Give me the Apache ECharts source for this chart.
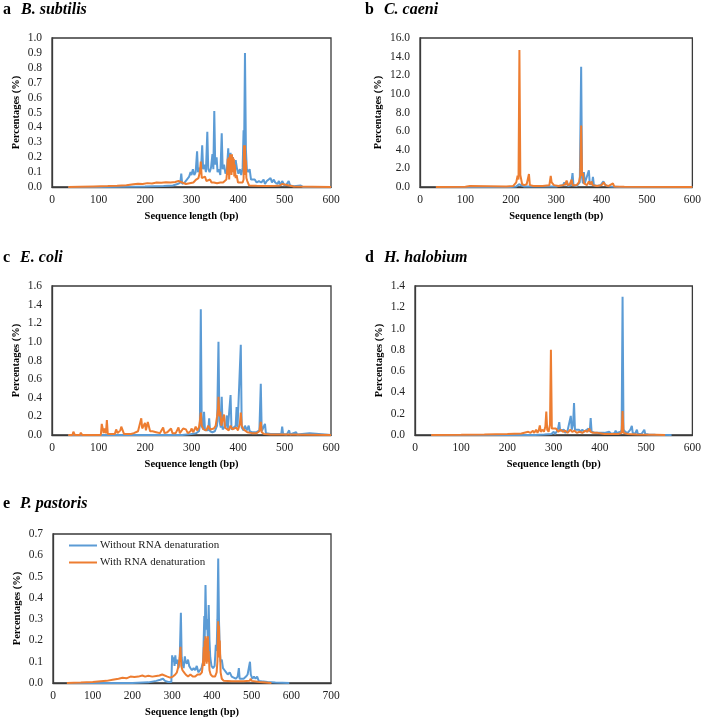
<!DOCTYPE html>
<html>
<head>
<meta charset="utf-8">
<script src="https://cdn.jsdelivr.net/npm/echarts@6/dist/echarts.min.js"></script>
<style>
html,body{margin:0;padding:0;background:#fff;}
#chart{width:704px;height:720px;}
</style>
</head>
<body>
<div id="chart"></div>
<script>
// ---- Data (sequence length bp, percentage %) ----
const panelLetters = ['a', 'b', 'c', 'd', 'e'];
const panelNames = ['B. subtilis', 'C. caeni', 'E. coli', 'H. halobium', 'P. pastoris'];
const seriesNames = ['Without RNA denaturation', 'With RNA denaturation'];
const yMax = [1.0, 16.0, 1.6, 1.4, 0.7];
const yStep = [0.1, 2.0, 0.2, 0.2, 0.1];
const xMax = [600, 600, 600, 600, 700];
const xStep = [100, 100, 100, 100, 100];

const aWithout = [[35,0],[100,0],[150,0.002],[200,0.004],[240,0.006],[260,0.01],[270,0.02],[276,0.03],[278,0.09],[280,0.02],[285,0.03],[290,0.05],[295,0.07],[298,0.1],[300,0.08],[303,0.12],[306,0.08],[309,0.1],[312,0.24],[314,0.1],[317,0.13],[320,0.09],[323,0.28],[325,0.12],[328,0.15],[331,0.1],[334,0.37],[336,0.12],[339,0.1],[342,0.13],[345,0.22],[347,0.12],[349,0.51],[351,0.15],[354,0.2],[356,0.1],[359,0.12],[362,0.08],[365,0.36],[367,0.12],[370,0.15],[373,0.09],[376,0.11],[379,0.26],[381,0.12],[384,0.23],[386,0.14],[389,0.2],[392,0.1],[395,0.18],[398,0.12],[401,0.09],[404,0.12],[407,0.08],[410,0.13],[412,0.38],[413,0.2],[415,0.9],[417,0.25],[419,0.12],[422,0.1],[425,0.12],[428,0.05],[432,0.04],[436,0.05],[440,0.03],[445,0.04],[450,0.03],[455,0.05],[458,0.02],[462,0.04],[466,0.03],[470,0.06],[473,0.03],[477,0.05],[480,0.03],[485,0.02],[488,0.04],[492,0.01],[495,0.04],[500,0.01],[505,0.02],[509,0.04],[512,0.01],[520,0.005],[535,0.01],[540,0],[600,0]];
const aWith = [[35,0],[60,0.002],[90,0.004],[120,0.006],[140,0.008],[160,0.012],[175,0.018],[185,0.022],[195,0.02],[205,0.026],[215,0.024],[225,0.03],[235,0.028],[245,0.032],[255,0.03],[265,0.034],[272,0.04],[276,0.045],[280,0.03],[288,0.02],[296,0.025],[304,0.03],[310,0.05],[315,0.06],[318,0.1],[320,0.17],[322,0.06],[326,0.05],[329,0.07],[332,0.04],[336,0.04],[340,0.05],[343,0.03],[348,0.03],[355,0.025],[362,0.03],[368,0.03],[372,0.04],[375,0.05],[377,0.12],[378,0.19],[379,0.08],[380,0.2],[381,0.05],[382,0.15],[383,0.22],[384,0.1],[385,0.21],[386,0.08],[387,0.22],[388,0.12],[389,0.2],[390,0.1],[391,0.19],[392,0.07],[393,0.15],[395,0.06],[397,0.08],[400,0.03],[405,0.03],[410,0.03],[412,0.05],[413,0.28],[414,0.12],[415,0.28],[416,0.08],[417,0.18],[418,0.06],[420,0.04],[424,0.01],[440,0.008],[460,0.006],[480,0.008],[490,0.01],[495,0.02],[498,0.008],[520,0.004],[560,0.002],[600,0]];

const bWithout = [[35,0],[200,0],[212,0.05],[218,0.3],[222,0.1],[230,0.05],[300,0.05],[315,0.2],[318,0.5],[320,0.2],[324,0.6],[326,0.1],[333,0.2],[336,1.5],[338,0.2],[345,0.1],[352,0.5],[355,12.9],[357,1.0],[359,0.4],[361,1.6],[363,0.4],[367,0.2],[372,1.8],[374,0.3],[379,0.3],[381,1.1],[383,0.2],[390,0.1],[398,0.2],[404,0.6],[407,0.3],[412,0.1],[420,0.05],[440,0],[600,0]];
const bWith = [[35,0],[100,0.02],[110,0.1],[114,0.02],[190,0.05],[205,0.1],[212,0.5],[215,1.2],[217,0.8],[219,14.7],[221,1.3],[223,1.2],[225,0.3],[230,0.2],[235,0.3],[238,0.2],[240,1.4],[242,0.2],[250,0.1],[265,0.1],[268,0.3],[270,0.1],[285,0.2],[288,1.2],[290,0.5],[292,0.6],[295,0.2],[305,0.1],[315,0.2],[320,0.3],[323,0.7],[325,0.2],[330,0.3],[334,0.8],[336,0.2],[345,0.2],[350,0.5],[353,1.2],[355,6.6],[357,1.2],[359,1.5],[361,0.4],[364,0.3],[368,0.2],[372,0.6],[375,0.3],[378,0.6],[380,0.2],[390,0.1],[400,0.2],[405,0.5],[408,0.2],[415,0.1],[425,0.4],[428,0.05],[450,0.02],[600,0]];

const cWithout = [[35,0],[280,0],[300,0.01],[310,0.02],[316,0.04],[318,0.1],[320,1.35],[322,0.1],[325,0.06],[327,0.25],[329,0.05],[333,0.04],[336,0.05],[338,0.18],[340,0.04],[345,0.03],[350,0.04],[355,0.1],[358,1.0],[360,0.15],[363,0.08],[365,0.41],[367,0.06],[371,0.05],[374,0.1],[376,0.21],[378,0.06],[381,0.05],[384,0.43],[386,0.06],[390,0.05],[395,0.1],[397,0.3],[399,0.08],[403,0.1],[406,0.97],[408,0.08],[412,0.05],[415,0.1],[417,0.11],[419,0.05],[423,0.1],[425,0.04],[430,0.03],[440,0.03],[446,0.05],[449,0.55],[451,0.04],[455,0.02],[458,0.12],[460,0.02],[470,0.01],[480,0.01],[493,0.01],[495,0.09],[497,0.01],[505,0.005],[510,0.05],[512,0.005],[525,0.03],[527,0.005],[554,0.02],[556,0],[600,0]];
const cWith = [[35,0],[44,0],[46,0.035],[49,0],[60,0],[62,0.025],[65,0],[105,0],[107,0.12],[109,0.13],[111,0.02],[113,0.07],[116,0.02],[118,0.16],[120,0.01],[135,0.01],[138,0.06],[141,0.02],[147,0.05],[149,0.09],[152,0.05],[155,0.01],[170,0.01],[176,0.02],[180,0.02],[185,0.04],[188,0.02],[192,0.18],[194,0.07],[197,0.06],[200,0.13],[202,0.05],[206,0.14],[208,0.12],[211,0.04],[216,0.04],[220,0.04],[224,0.03],[228,0.04],[232,0.02],[236,0.03],[239,0.08],[242,0.02],[248,0.03],[252,0.02],[256,0.07],[259,0.02],[266,0.02],[272,0.08],[275,0.02],[282,0.07],[285,0.05],[288,0.06],[292,0.02],[298,0.04],[300,0.07],[304,0.03],[309,0.09],[312,0.05],[316,0.08],[318,0.15],[320,0.24],[322,0.1],[326,0.06],[329,0.08],[332,0.05],[336,0.1],[340,0.06],[344,0.05],[348,0.07],[352,0.1],[355,0.2],[357,0.28],[358,0.41],[360,0.2],[362,0.25],[364,0.1],[367,0.12],[370,0.22],[372,0.08],[376,0.06],[380,0.05],[384,0.1],[388,0.06],[392,0.05],[396,0.08],[400,0.05],[404,0.12],[406,0.24],[408,0.1],[412,0.06],[416,0.04],[420,0.03],[430,0.02],[440,0.02],[446,0.04],[449,0.14],[451,0.03],[456,0.01],[470,0.005],[500,0.005],[600,0]];

const dWithout = [[35,0],[260,0],[280,0.005],[295,0.01],[300,0.03],[303,0.01],[306,0.03],[309,0.05],[312,0.12],[314,0.04],[318,0.03],[322,0.05],[325,0.02],[330,0.04],[334,0.03],[337,0.18],[339,0.05],[342,0.1],[344,0.3],[346,0.05],[350,0.04],[355,0.05],[358,0.03],[362,0.05],[366,0.03],[370,0.04],[375,0.06],[378,0.03],[380,0.16],[382,0.03],[386,0.03],[390,0.02],[400,0.02],[410,0.02],[420,0.03],[425,0.01],[432,0.02],[434,0.04],[436,0.02],[440,0.02],[445,0.03],[447,0.05],[449,1.3],[451,0.05],[455,0.03],[460,0.02],[466,0.05],[469,0.085],[471,0.02],[476,0.01],[480,0.05],[482,0.01],[490,0.01],[496,0.05],[498,0.01],[505,0.005],[520,0.003],[555,0]];
const dWith = [[35,0],[100,0.002],[150,0.005],[200,0.01],[230,0.015],[245,0.03],[250,0.02],[255,0.04],[258,0.02],[262,0.05],[265,0.02],[268,0.05],[270,0.09],[272,0.03],[276,0.05],[279,0.03],[282,0.08],[284,0.22],[286,0.05],[289,0.03],[292,0.1],[294,0.8],[296,0.06],[300,0.05],[305,0.06],[310,0.03],[315,0.05],[320,0.03],[325,0.04],[330,0.02],[336,0.05],[340,0.03],[345,0.04],[350,0.02],[356,0.03],[362,0.02],[368,0.04],[373,0.03],[377,0.06],[380,0.03],[385,0.02],[395,0.02],[410,0.01],[420,0.01],[440,0.01],[447,0.02],[449,0.225],[451,0.02],[460,0.01],[480,0.005],[520,0.002],[541,0]];

const eWithout = [[35,0],[200,0],[240,0.003],[260,0.01],[270,0.015],[277,0.02],[282,0.01],[290,0.005],[298,0.005],[300,0.13],[302,0.1],[304,0.12],[306,0.08],[308,0.13],[310,0.09],[313,0.11],[316,0.07],[319,0.11],[322,0.33],[324,0.12],[326,0.09],[329,0.07],[332,0.125],[334,0.1],[337,0.09],[340,0.11],[343,0.08],[346,0.07],[350,0.06],[354,0.07],[358,0.06],[362,0.08],[366,0.05],[370,0.06],[374,0.07],[378,0.1],[381,0.315],[382,0.2],[384,0.46],[386,0.25],[388,0.3],[390,0.2],[392,0.366],[394,0.2],[396,0.12],[399,0.08],[403,0.07],[407,0.08],[410,0.18],[412,0.15],[414,0.3],[416,0.585],[418,0.29],[420,0.15],[422,0.1],[425,0.11],[428,0.07],[432,0.06],[436,0.05],[440,0.04],[445,0.05],[450,0.03],[455,0.03],[460,0.02],[465,0.03],[468,0.07],[470,0.02],[475,0.02],[480,0.02],[486,0.03],[490,0.04],[494,0.08],[496,0.1],[498,0.04],[502,0.02],[506,0.03],[510,0.02],[514,0.03],[518,0.01],[525,0.008],[540,0.005],[560,0.002],[595,0]];
const eWith = [[35,0],[70,0.002],[100,0.005],[120,0.008],[135,0.01],[150,0.015],[165,0.02],[175,0.025],[185,0.022],[195,0.03],[205,0.028],[215,0.03],[225,0.035],[232,0.03],[240,0.034],[250,0.03],[260,0.033],[268,0.035],[275,0.04],[280,0.035],[288,0.03],[295,0.025],[302,0.03],[308,0.04],[312,0.05],[316,0.08],[319,0.12],[321,0.17],[323,0.08],[326,0.06],[330,0.05],[334,0.04],[340,0.03],[346,0.04],[352,0.03],[358,0.03],[364,0.04],[370,0.04],[375,0.05],[378,0.1],[380,0.17],[381,0.08],[382,0.2],[383,0.12],[384,0.22],[385,0.1],[386,0.18],[387,0.09],[388,0.21],[389,0.12],[390,0.22],[391,0.1],[392,0.15],[394,0.06],[397,0.04],[402,0.03],[408,0.03],[412,0.05],[414,0.1],[415,0.2],[416,0.29],[417,0.12],[418,0.27],[419,0.15],[420,0.2],[422,0.05],[425,0.02],[430,0.01],[450,0.008],[480,0.008],[495,0.01],[498,0.02],[500,0.01],[520,0.005],[550,0]];

const withoutData = [aWithout, bWithout, cWithout, dWithout, eWithout];
const withData = [aWith, bWith, cWith, dWith, eWith];

// ---- Layout ----
const FONT = 'Liberation Serif, Times New Roman, serif';
const BLUE = '#5B9BD5';
const ORANGE = '#ED7D31';
const AXIS = '#3a3a3a';
const grids = [
  {left: 52, top: 38, width: 279, height: 149},
  {left: 420, top: 38, width: 274, height: 149},
  {left: 52, top: 286, width: 279, height: 149},
  {left: 415, top: 286, width: 279, height: 149},
  {left: 53, top: 534, width: 278, height: 149}
];
const titlePos = [
  {left: 3, top: 1}, {left: 365, top: 1},
  {left: 3, top: 249}, {left: 365, top: 249},
  {left: 3, top: 495}
];
const yNameGap = [30, 36, 30, 30, 30];

const chart = echarts.init(document.getElementById('chart'), null, {renderer: 'canvas'});

const option = {
  animation: false,
  backgroundColor: '#fff',
  title: panelLetters.map((l, i) => ({
    text: '{l|' + l + '}  {n|' + panelNames[i] + '}',
    left: titlePos[i].left, top: titlePos[i].top, padding: 0,
    textStyle: {
      rich: {
        l: {fontFamily: FONT, fontWeight: 'bold', fontSize: 16, color: '#000'},
        n: {fontFamily: FONT, fontWeight: 'bold', fontStyle: 'italic', fontSize: 16, color: '#000'}
      }
    }
  })),
  legend: {
    data: seriesNames,
    orient: 'vertical',
    left: 69, top: 540,
    itemWidth: 28, itemHeight: 2, itemGap: 6,
    icon: 'rect',
    padding: 0,
    textStyle: {fontFamily: FONT, fontSize: 11, color: '#222', padding: [0, 0, 0, -2]}
  },
  grid: grids.map(g => Object.assign({show: true, borderColor: AXIS, borderWidth: 1.3, backgroundColor: 'transparent'}, g)),
  xAxis: grids.map((g, i) => ({
    type: 'value', gridIndex: i, min: 0, max: xMax[i], interval: xStep[i],
    name: 'Sequence length (bp)', nameLocation: 'middle', nameGap: 24,
    nameTextStyle: {fontFamily: FONT, fontWeight: 'bold', fontSize: 10.5, color: '#000'},
    axisLine: {show: true, lineStyle: {color: AXIS, width: 1.3}},
    axisTick: {show: false},
    splitLine: {show: false},
    axisLabel: {fontFamily: FONT, fontSize: 11.5, color: '#222', margin: 7}
  })),
  yAxis: grids.map((g, i) => ({
    type: 'value', gridIndex: i, min: 0, max: yMax[i], interval: yStep[i],
    name: 'Percentages (%)', nameLocation: 'middle', nameGap: yNameGap[i], nameRotate: 90,
    nameTextStyle: {fontFamily: FONT, fontWeight: 'bold', fontSize: 10.5, color: '#000'},
    axisLine: {show: true, lineStyle: {color: AXIS, width: 1.3}},
    axisTick: {show: false},
    splitLine: {show: false},
    axisLabel: {fontFamily: FONT, fontSize: 11.5, color: '#222', margin: 10,
      formatter: v => v.toFixed(1)}
  })),
  series: []
};

for (let i = 0; i < 5; i++) {
  option.series.push({
    name: seriesNames[0], type: 'line', xAxisIndex: i, yAxisIndex: i,
    data: withoutData[i], showSymbol: false, symbol: 'none', smooth: false,
    lineStyle: {color: BLUE, width: 2}, itemStyle: {color: BLUE}, z: 3
  });
  option.series.push({
    name: seriesNames[1], type: 'line', xAxisIndex: i, yAxisIndex: i,
    data: withData[i], showSymbol: false, symbol: 'none', smooth: false,
    lineStyle: {color: ORANGE, width: 2}, itemStyle: {color: ORANGE}, z: 4
  });
}

chart.setOption(option);
</script>
</body>
</html>
